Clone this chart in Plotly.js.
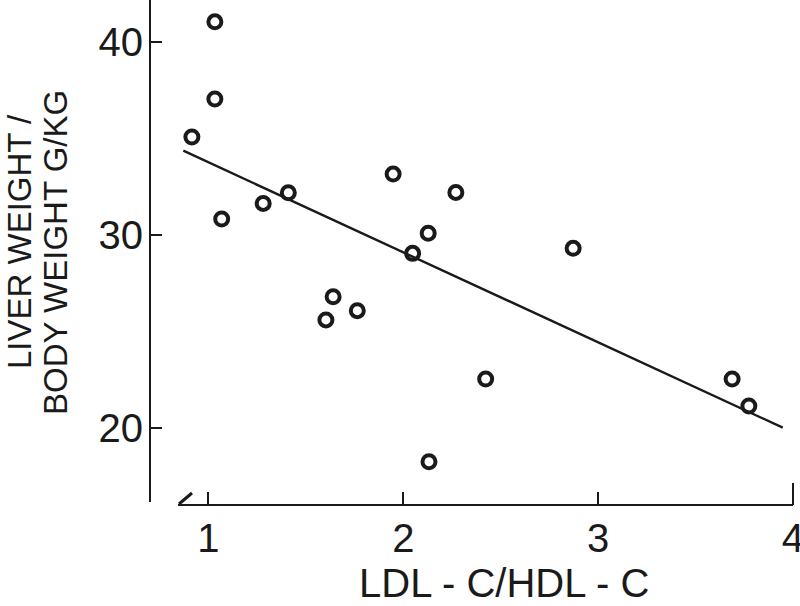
<!DOCTYPE html>
<html>
<head>
<meta charset="utf-8">
<script src="https://cdn.plot.ly/plotly-3.0.1.min.js"></script>
<style>
  html, body { margin: 0; padding: 0; background: #fff; }
  #chart { width: 800px; height: 606px; }
</style>
</head>
<body>
<div id="chart"></div>
<script>
// Data
const ratioLDLtoHDL = [0.915, 1.033, 1.033, 1.068, 1.281, 1.41, 1.948, 2.27, 2.128, 2.048, 2.872, 1.64, 1.603, 1.764, 2.423, 2.132, 3.688, 3.774];
const liverBodyWeight = [35.08, 41.05, 37.05, 30.83, 31.64, 32.19, 33.16, 32.21, 30.09, 29.05, 29.31, 26.80, 25.60, 26.08, 22.54, 18.25, 22.54, 21.14];
const fitX = [0.871, 3.948];
const fitY = [34.37, 20.02];
const xTicks = [1, 2, 3, 4];
const yTicks = [20, 30, 40];
const xTitle = 'LDL - C/HDL - C';
const yTitleLines = ['LIVER WEIGHT /', 'BODY WEIGHT G/KG'];

const ink = '#1a1a1a';
const fontFam = '"Liberation Sans", Arial, Helvetica, sans-serif';

const traces = [
  {
    x: fitX, y: fitY, type: 'scatter', mode: 'lines',
    line: { color: ink, width: 2.4 }, hoverinfo: 'skip', showlegend: false
  },
  {
    x: ratioLDLtoHDL, y: liverBodyWeight, type: 'scatter', mode: 'markers',
    marker: { symbol: 'circle-open', size: 13, color: ink, line: { width: 4, color: ink } },
    showlegend: false
  }
];

// plot area pixels: left 150, right 793, top 0, bottom 505
const L = 150, R = 793, T = 0, B = 505;
const px = v => (v - L) / (R - L);
const py = v => 1 - (v - T) / (B - T);

const layout = {
  width: 800, height: 606,
  margin: { l: L, r: 800 - R, t: T, b: 606 - B, pad: 0 },
  paper_bgcolor: '#fff', plot_bgcolor: '#fff',
  showlegend: false,
  font: { family: fontFam, color: ink },
  xaxis: {
    range: [0.70, 4.0005], tickvals: xTicks, ticktext: xTicks.map(String),
    ticks: 'inside', ticklen: 13, tickwidth: 2, tickcolor: ink,
    showline: false, showgrid: false, zeroline: false,
    tickfont: { size: 40, family: fontFam, color: ink },
    ticklabelstandoff: 6, ticklabeloverflow: 'allow'
  },
  yaxis: {
    range: [16.01, 42.18], tickvals: yTicks, ticktext: yTicks.map(String),
    ticks: 'inside', ticklen: 12, tickwidth: 2, tickcolor: ink,
    showline: false, showgrid: false, zeroline: false,
    tickfont: { size: 40, family: fontFam, color: ink },
    ticklabelstandoff: 6, ticklabeloverflow: 'allow'
  },
  shapes: [
    // y axis line
    { type: 'line', xref: 'paper', yref: 'paper', x0: 0, x1: 0, y0: py(502), y1: 1,
      line: { color: ink, width: 2 } },
    // x axis line (starts after the break)
    { type: 'line', xref: 'paper', yref: 'paper', x0: px(178), x1: 1, y0: 0, y1: 0,
      line: { color: ink, width: 2 } },
    // axis break mark
    { type: 'line', xref: 'paper', yref: 'paper', x0: px(179), x1: px(192), y0: py(504), y1: py(493),
      line: { color: ink, width: 3 } },
    // end tick at x = 4 (taller)
    { type: 'line', xref: 'paper', yref: 'paper', x0: 1, x1: 1, y0: 0, y1: py(483),
      line: { color: ink, width: 2 } }
  ],
  annotations: [
    { text: xTitle, xref: 'paper', yref: 'paper', x: px(504), y: py(583),
      xanchor: 'center', yanchor: 'middle', showarrow: false,
      font: { size: 40, family: fontFam, color: ink } },
    { text: yTitleLines[0], xref: 'paper', yref: 'paper', x: px(19), y: py(242),
      xanchor: 'center', yanchor: 'middle', textangle: -90, showarrow: false,
      font: { size: 33, family: fontFam, color: ink } },
    { text: yTitleLines[1], xref: 'paper', yref: 'paper', x: px(55), y: py(253),
      xanchor: 'center', yanchor: 'middle', textangle: -90, showarrow: false,
      font: { size: 33, family: fontFam, color: ink } }
  ]
};

Plotly.newPlot('chart', traces, layout, { staticPlot: true, displayModeBar: false });
</script>
</body>
</html>
